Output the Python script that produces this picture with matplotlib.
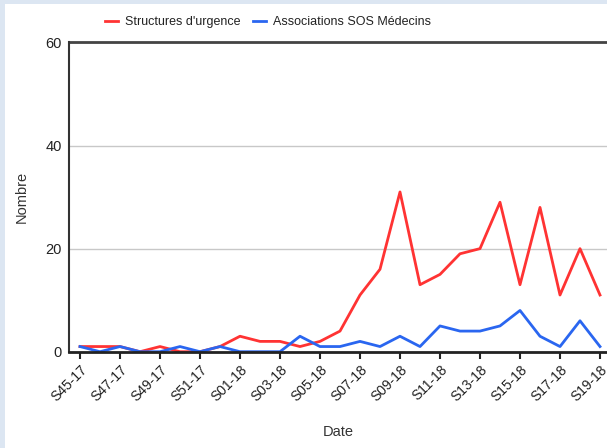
import numpy as np
import matplotlib
matplotlib.use("Agg")
import matplotlib.pyplot as plt
from matplotlib.patches import Rectangle

plt.rcParams['font.family'] = ['Liberation Sans', 'DejaVu Sans']

# weekly counts, S45-17 .. S19-18
weeks = ['S45-17', 'S46-17', 'S47-17', 'S48-17', 'S49-17', 'S50-17', 'S51-17', 'S52-17',
         'S01-18', 'S02-18', 'S03-18', 'S04-18', 'S05-18', 'S06-18', 'S07-18', 'S08-18',
         'S09-18', 'S10-18', 'S11-18', 'S12-18', 'S13-18', 'S14-18', 'S15-18', 'S16-18',
         'S17-18', 'S18-18', 'S19-18']
urgences = [1, 1, 1, 0, 1, 0, 0, 1, 3, 2, 2, 1, 2, 4, 11, 16, 31, 13, 15, 19, 20, 29, 13, 28, 11, 20, 11]
sos_medecins = [1, 0, 1, 0, 0, 1, 0, 1, 0, 0, 0, 3, 1, 1, 2, 1, 3, 1, 5, 4, 4, 5, 8, 3, 1, 6, 1]

fig = plt.figure(figsize=(6.07, 4.48), dpi=100, facecolor='#dce6f2')
# white card, the page background peeks out left and top
fig.patches.append(Rectangle((5 / 607, 0), 1, 1 - 4 / 448, transform=fig.transFigure,
                             facecolor='white', edgecolor='none', zorder=-10))

ax = fig.add_axes([69 / 607, 1 - 351.7 / 448, 1 - 69 / 607, (351.7 - 42.5) / 448])
ax.set_facecolor('none')

x = np.arange(len(weeks))
ax.plot(x, urgences, color='#ff3333', lw=2, label="Structures d'urgence")
ax.plot(x, sos_medecins, color='#2a66f0', lw=2, label='Associations SOS Médecins')

ax.set_xlim(-0.55, 26.35)
ax.set_ylim(0, 60)
ax.set_yticks([0, 20, 40, 60])
ax.yaxis.grid(True, color='#c8c8c8', lw=1)
ax.axhline(60, color='#444444', lw=2, clip_on=False)
ax.set_axisbelow(True)

ax.set_xticks(x[::2])
ax.set_xticklabels(weeks[::2], rotation=45, ha='right', rotation_mode='anchor', fontsize=10)
ax.tick_params(axis='x', length=5, width=1.5, color='#222222', pad=3, labelcolor='#222222')
ax.tick_params(axis='y', length=0, labelsize=10.5, pad=5, labelcolor='#222222')

for s in ['top', 'right']:
    ax.spines[s].set_visible(False)
ax.spines['left'].set_color('#333333')
ax.spines['left'].set_linewidth(1.5)
ax.spines['bottom'].set_color('#222222')
ax.spines['bottom'].set_linewidth(2)

ax.set_xlabel('Date', fontsize=10.5, color='#333333', labelpad=15)
ax.set_ylabel('Nombre', fontsize=10.5, color='#333333', labelpad=12)

fig.legend(loc='center', bbox_to_anchor=(268 / 607, 1 - 22 / 448), ncol=2, frameon=False,
           fontsize=9, handlelength=1.0, handletextpad=0.6, columnspacing=1.0,
           labelcolor='#222222')

fig.savefig('out.png', dpi=100, facecolor=fig.get_facecolor())
